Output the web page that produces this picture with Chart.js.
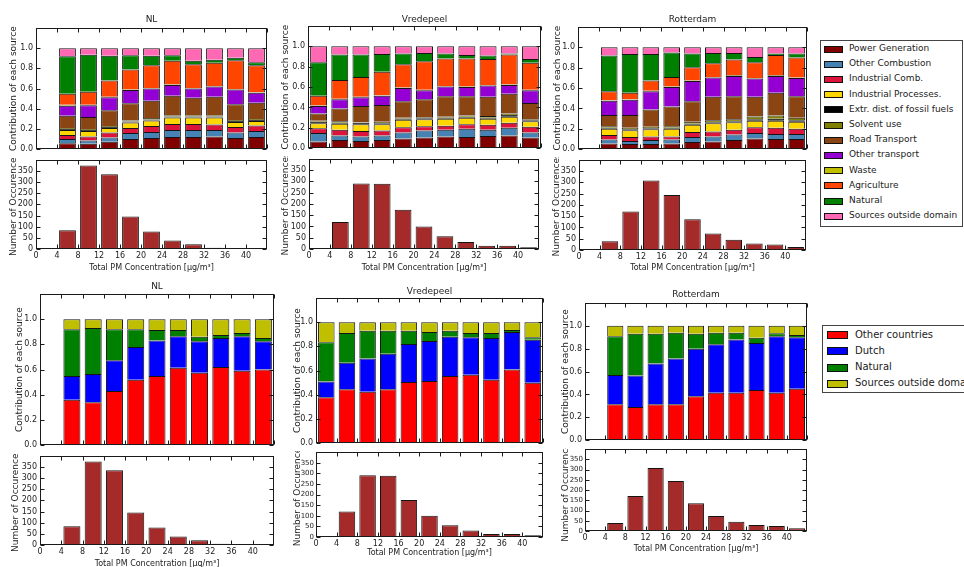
<!DOCTYPE html>
<html>
<head>
<meta charset="utf-8">
<script src="https://cdn.jsdelivr.net/npm/chart.js@4.4.1/dist/chart.umd.min.js"></script>
<style>
  html, body { margin: 0; padding: 0; background: #fff; }
  #fig { position: relative; width: 964px; height: 567px; overflow: hidden; background: #fff;
         font-family: "DejaVu Sans", sans-serif; color: #222; }
  #fig canvas { position: absolute; }
  .legend { position: absolute; background: #fff; border: 1px solid #444; box-sizing: border-box; }
  .legend .patch { position: absolute; border: 1px solid #111; box-sizing: border-box; }
  .legend .txt { position: absolute; line-height: 1; white-space: nowrap; }
</style>
</head>
<body>
<div id="fig"></div>
<script>
// ---- concentration bins (centre of each 4 µg/m³ class) ----
const binsFrom4 = [6, 10, 14, 18, 22, 26, 30, 34, 38, 42];
const binsFrom0 = [2, 6, 10, 14, 18, 22, 26, 30, 34, 38, 42];

// ---- emission source categories ----
const sourceNames = ['Power Generation', 'Other Combustion', 'Industrial Comb.', 'Industrial Processes.',
  'Extr. dist. of fossil fuels', 'Solvent use', 'Road Transport', 'Other transport', 'Waste',
  'Agriculture', 'Natural', 'Sources outside domain'];
const sourceColors = ['#800000', '#4682b4', '#dc143c', '#ffd700', '#000000', '#808000',
  '#8b4513', '#9400d3', '#bfbf00', '#ff4500', '#008000', '#ff69b4'];

// ---- origin categories ----
const originNames = ['Other countries', 'Dutch', 'Natural', 'Sources outside domain'];
const originColors = ['#ff0000', '#0000ff', '#008000', '#bfbf00'];

// ---- NL: share per source (rows in source order) ----
const nlSources = [
  [.06, .055, .075, .10, .11, .12, .12, .125, .11, .12],
  [.04, .03, .04, .06, .06, .07, .07, .065, .055, .06],
  [.04, .04, .05, .05, .06, .06, .06, .055, .055, .055],
  [.05, .055, .045, .055, .055, .065, .065, .07, .05, .045],
  [.01, .01, .01, .01, .01, .01, .01, .01, .01, .01],
  [.01, .01, .01, .01, .015, .01, .01, .01, .01, .01],
  [.12, .12, .155, .17, .17, .195, .175, .185, .155, .16],
  [.10, .115, .13, .13, .12, .105, .09, .10, .145, .10],
  [.01, .005, .005, .005, .005, .005, .005, .005, .005, .005],
  [.11, .13, .16, .20, .225, .235, .235, .23, .285, .265],
  [.37, .365, .245, .14, .095, .055, .035, .03, .025, .03],
  [.08, .065, .075, .07, .075, .07, .125, .115, .095, .14]
];

// ---- Vredepeel: share per source ----
const vredepeelSources = [
  [.065, .08, .07, .08, .095, .105, .115, .11, .12, .125, .105],
  [.085, .045, .045, .045, .06, .07, .065, .08, .06, .075, .05],
  [.045, .055, .055, .05, .05, .04, .04, .045, .05, .05, .055],
  [.05, .06, .065, .06, .075, .07, .07, .065, .06, .06, .055],
  [.015, .01, .015, .01, .01, .01, .01, .01, .01, .015, .01],
  [.01, .015, .005, .015, .01, .01, .01, .01, .015, .015, .01],
  [.07, .125, .16, .165, .16, .175, .20, .19, .19, .195, .16],
  [.075, .09, .085, .09, .13, .09, .095, .09, .11, .085, .125],
  [.005, .005, .005, .005, .005, .005, .005, .005, .005, .005, .005],
  [.095, .185, .195, .23, .23, .28, .27, .275, .255, .295, .265],
  [.33, .25, .22, .175, .105, .08, .05, .035, .035, .01, .035],
  [.155, .08, .08, .075, .07, .065, .07, .085, .09, .07, .125]
];

// ---- Rotterdam: share per source ----
const rotterdamSources = [
  [.055, .05, .05, .055, .07, .075, .09, .105, .10, .10],
  [.04, .03, .04, .04, .05, .05, .055, .055, .05, .05],
  [.045, .04, .035, .03, .05, .05, .045, .055, .06, .05],
  [.06, .065, .07, .075, .07, .08, .075, .065, .07, .07],
  [.01, .01, .01, .01, .01, .01, .01, .015, .02, .015],
  [.015, .015, .015, .015, .02, .02, .02, .025, .03, .025],
  [.11, .125, .17, .195, .20, .23, .225, .195, .225, .21],
  [.14, .15, .18, .19, .20, .19, .20, .18, .165, .18],
  [.005, .005, .005, .005, .005, .005, .005, .005, .005, .005],
  [.09, .065, .10, .095, .13, .135, .155, .155, .20, .195],
  [.35, .38, .26, .24, .135, .10, .065, .05, .015, .04],
  [.08, .065, .065, .05, .06, .055, .055, .095, .06, .06]
];

// ---- share per origin (rows: other countries, Dutch, natural, outside domain) ----
const nlOrigins = [
  [.36, .34, .43, .52, .55, .615, .575, .62, .59, .60],
  [.19, .225, .245, .26, .28, .25, .25, .23, .275, .225],
  [.37, .365, .245, .14, .085, .05, .035, .025, .025, .025],
  [.08, .07, .08, .08, .085, .085, .14, .125, .11, .15]
];
const vredepeelOrigins = [
  [.38, .445, .425, .445, .505, .515, .555, .565, .525, .61, .50],
  [.13, .22, .275, .295, .315, .33, .325, .31, .345, .31, .355],
  [.325, .245, .23, .19, .11, .075, .05, .035, .04, .015, .02],
  [.165, .09, .07, .07, .07, .08, .07, .09, .09, .065, .125]
];
const rotterdamOrigins = [
  [.315, .29, .315, .315, .385, .415, .415, .44, .415, .45],
  [.255, .275, .355, .40, .415, .425, .465, .41, .495, .45],
  [.34, .365, .26, .225, .13, .10, .06, .045, .025, .02],
  [.09, .07, .07, .06, .07, .06, .06, .105, .065, .08]
];

// ---- number of occurrences per concentration class ----
const nlCounts = [84, 374, 335, 146, 78, 38, 21, 6, 4, 1];
const vredepeelCounts = [1, 120, 291, 289, 174, 100, 56, 31, 14, 14, 8];
const rotterdamCounts = [39, 171, 308, 244, 136, 73, 45, 29, 24, 13];

// ------------------------------------------------------------------
const FAMILY = "'DejaVu Sans', sans-serif";
const TEXT = '#222';
const LABEL_FONT = { family: FAMILY, size: 9, weight: 'normal' };
const XLABEL_FONT = { family: FAMILY, size: 8, weight: 'normal' };
const tickFont = size => ({ family: FAMILY, size, weight: 'normal' });
const fig = document.getElementById('fig');

Chart.defaults.font.family = FAMILY;
Chart.defaults.color = TEXT;

// box frame with inward ticks on all four sides
Chart.register({
  id: 'frame',
  beforeDraw(chart, args, opts) {
    if (!opts.fill) return;
    const { ctx, width, height } = chart;
    ctx.save();
    ctx.fillStyle = '#fff';
    ctx.fillRect(0, 0, width, height);
    ctx.restore();
  },
  afterDatasetsDraw(chart) {
    const { ctx, chartArea: a, scales: { x, y } } = chart;
    const L = 4;
    ctx.save();
    ctx.strokeStyle = '#1a1a1a';
    ctx.lineWidth = 1;
    const l = Math.round(a.left) + 0.5, r = Math.round(a.right) - 0.5;
    const t = Math.round(a.top) + 0.5, b = Math.round(a.bottom) - 0.5;
    ctx.strokeRect(l, t, r - l, b - t);
    ctx.beginPath();
    for (const tk of x.ticks) {
      const px = Math.round(x.getPixelForValue(tk.value)) + 0.5;
      ctx.moveTo(px, b); ctx.lineTo(px, b - L);
      ctx.moveTo(px, t); ctx.lineTo(px, t + L);
    }
    for (const tk of y.ticks) {
      const py = Math.round(y.getPixelForValue(tk.value)) + 0.5;
      ctx.moveTo(l, py); ctx.lineTo(l + L, py);
      ctx.moveTo(r, py); ctx.lineTo(r - L, py);
    }
    ctx.stroke();
    ctx.restore();
  }
});

function addCanvas(left, top, w, h) {
  const c = document.createElement('canvas');
  c.width = Math.round(w);
  c.height = Math.round(h);
  c.style.left = Math.round(left) + 'px';
  c.style.top = Math.round(top) + 'px';
  fig.appendChild(c);
  return c;
}

const hiddenGrid = { display: false, drawTicks: false };

// stacked share chart
function shareChart(p) {
  const lh = LABEL_FONT.size * 1.2;
  const ml = Math.round(p.area.x - p.yTitleX + lh / 2 + 4);
  const mr = 4, mb = 2, padTop = 1;
  const tPad = Math.max(0, p.area.y - p.titleY - lh / 2);
  const mt = padTop + lh + 2 * tPad;
  const canvas = addCanvas(p.area.x - ml, p.area.y - mt, p.area.w + ml + mr, p.area.h + mt + mb);
  new Chart(canvas, {
    type: 'bar',
    data: {
      datasets: p.names.map((name, i) => ({
        label: name,
        data: p.bins.map((c, j) => ({ x: c, y: p.rows[i][j] })),
        backgroundColor: p.colors[i],
        borderColor: '#141414',
        borderWidth: 1,
        barPercentage: 0.8,
        categoryPercentage: 1
      }))
    },
    options: {
      responsive: false, animation: false, events: [],
      layout: { padding: { left: 0, top: padTop, right: mr, bottom: mb } },
      plugins: {
        legend: { display: false }, tooltip: { enabled: false },
        title: { display: true, text: p.title, font: LABEL_FONT, color: TEXT, fullSize: false,
                 padding: { top: tPad, bottom: tPad } },
        frame: { fill: true }
      },
      scales: {
        x: { type: 'linear', min: 0, max: 44, offset: false, stacked: true,
             grid: hiddenGrid, border: { display: false },
             ticks: { display: false, stepSize: 4 },
             afterFit(s) { s.height = 0; } },
        y: { type: 'linear', min: 0, max: 1.2, stacked: true,
             grid: hiddenGrid, border: { display: false },
             ticks: { stepSize: 0.2, autoSkip: false, font: tickFont(8), color: TEXT, padding: 3,
                      callback: v => (v > 1.05 ? null : v.toFixed(1)) },
             title: { display: true, text: 'Contribution of each source', font: LABEL_FONT, color: TEXT,
                      padding: { top: 4, bottom: 0 } },
             afterFit(s) { s.width = ml; } }
      }
    }
  });
}

// histogram of occurrences
function countChart(p) {
  const lh = LABEL_FONT.size * 1.2;
  const lhx = XLABEL_FONT.size * 1.2;
  const yTick = p.yTickSize || 8;
  const ml = Math.round(p.area.x - p.yTitleX + lh / 2 + 4);
  const mr = 4, mt = 2;
  const mb = Math.round(p.xTitleY - (p.area.y + p.area.h) + lhx / 2 + 1);
  const canvas = addCanvas(p.area.x - ml, p.area.y - mt, p.area.w + ml + mr, p.area.h + mt + mb);
  new Chart(canvas, {
    type: 'bar',
    data: {
      datasets: [{
        label: 'Number of Occurences',
        data: p.bins.map((c, j) => ({ x: c, y: p.counts[j] })),
        backgroundColor: '#a52a2a',
        borderColor: '#141414',
        borderWidth: 1,
        barPercentage: 0.8,
        categoryPercentage: 1
      }]
    },
    options: {
      responsive: false, animation: false, events: [],
      layout: { padding: { left: 0, top: mt, right: mr, bottom: 0 } },
      plugins: { legend: { display: false }, tooltip: { enabled: false }, title: { display: false } },
      scales: {
        x: { type: 'linear', min: 0, max: 44, offset: false,
             grid: hiddenGrid, border: { display: false },
             ticks: { stepSize: 4, autoSkip: false, maxRotation: 0, font: tickFont(8), color: TEXT, padding: 2,
                      callback: v => (v > 40 ? null : v) },
             title: { display: true, text: 'Total PM Concentration [μg/m³]', font: XLABEL_FONT, color: TEXT,
                      padding: { top: 0, bottom: 1 } },
             afterFit(s) { s.height = mb; } },
        y: { type: 'linear', min: 0, max: 400,
             grid: hiddenGrid, border: { display: false },
             ticks: { stepSize: 50, autoSkip: false, font: tickFont(yTick), color: TEXT, padding: yTick < 8 ? 2 : 3,
                      callback: v => (v > 350 ? null : v) },
             title: { display: true, text: 'Number of Occurences', font: LABEL_FONT, color: TEXT,
                      padding: { top: 4, bottom: 0 } },
             afterFit(s) { s.width = ml; } }
      }
    }
  });
}

// ---- histograms first, so the share panels sit on top of them ----
countChart({ area: { x: 36, y: 154, w: 231, h: 95 }, yTitleX: 13, xTitleY: 268, bins: binsFrom4, counts: nlCounts });
countChart({ area: { x: 309, y: 153, w: 230, h: 96 }, yTitleX: 285, xTitleY: 268, bins: binsFrom0, counts: vredepeelCounts });
countChart({ area: { x: 579, y: 154, w: 227, h: 96 }, yTitleX: 556, xTitleY: 268, bins: binsFrom4, counts: rotterdamCounts });

countChart({ area: { x: 40, y: 450, w: 234, h: 95 }, yTitleX: 15, xTitleY: 564, bins: binsFrom4, counts: nlCounts });
countChart({ area: { x: 316, y: 448, w: 227, h: 89 }, yTitleX: 297, xTitleY: 553, yTickSize: 7,
             bins: binsFrom0, counts: vredepeelCounts });
countChart({ area: { x: 585, y: 445, w: 222, h: 86 }, yTitleX: 565, xTitleY: 549, yTickSize: 7,
             bins: binsFrom4, counts: rotterdamCounts });

// ---- source apportionment ----
shareChart({ area: { x: 36, y: 28, w: 231, h: 127 }, title: 'NL', titleY: 20, yTitleX: 13,
             bins: binsFrom4, rows: nlSources, names: sourceNames, colors: sourceColors });
shareChart({ area: { x: 308, y: 26, w: 233, h: 128 }, title: 'Vredepeel', titleY: 20, yTitleX: 285,
             bins: binsFrom0, rows: vredepeelSources, names: sourceNames, colors: sourceColors });
shareChart({ area: { x: 578, y: 27, w: 229, h: 128 }, title: 'Rotterdam', titleY: 20, yTitleX: 557,
             bins: binsFrom4, rows: rotterdamSources, names: sourceNames, colors: sourceColors });

// ---- origin apportionment ----
shareChart({ area: { x: 40, y: 294, w: 234, h: 157 }, title: 'NL', titleY: 287, yTitleX: 19,
             bins: binsFrom4, rows: nlOrigins, names: originNames, colors: originColors });
shareChart({ area: { x: 316, y: 298, w: 227, h: 151 }, title: 'Vredepeel', titleY: 292, yTitleX: 297,
             bins: binsFrom0, rows: vredepeelOrigins, names: originNames, colors: originColors });
shareChart({ area: { x: 585, y: 303, w: 222, h: 143 }, title: 'Rotterdam', titleY: 295, yTitleX: 565,
             bins: binsFrom4, rows: rotterdamOrigins, names: originNames, colors: originColors });

// ---- legends ----
function legend(box, names, colors, item) {
  const el = document.createElement('div');
  el.className = 'legend';
  Object.assign(el.style, { left: box.x + 'px', top: box.y + 'px', width: box.w + 'px', height: box.h + 'px' });
  names.forEach((name, i) => {
    const cy = item.y0 + i * item.dy;
    const patch = document.createElement('div');
    patch.className = 'patch';
    Object.assign(patch.style, { left: item.px + 'px', top: (cy - item.ph / 2) + 'px', width: item.pw + 'px',
                                 height: item.ph + 'px', background: colors[i] });
    const txt = document.createElement('div');
    txt.className = 'txt';
    txt.textContent = name;
    Object.assign(txt.style, { left: item.tx + 'px', top: (cy - item.fs * 0.55) + 'px', fontSize: item.fs + 'px' });
    el.appendChild(patch);
    el.appendChild(txt);
  });
  fig.appendChild(el);
}
legend({ x: 820, y: 40, w: 143, h: 187 }, sourceNames, sourceColors,
       { y0: 8, dy: 15.2, px: 3, pw: 19, ph: 7, tx: 28, fs: 9 });
legend({ x: 822, y: 325, w: 160, h: 68 }, originNames, originColors,
       { y0: 9, dy: 16.3, px: 4, pw: 21, ph: 8, tx: 32, fs: 10 });
</script>
</body>
</html>
